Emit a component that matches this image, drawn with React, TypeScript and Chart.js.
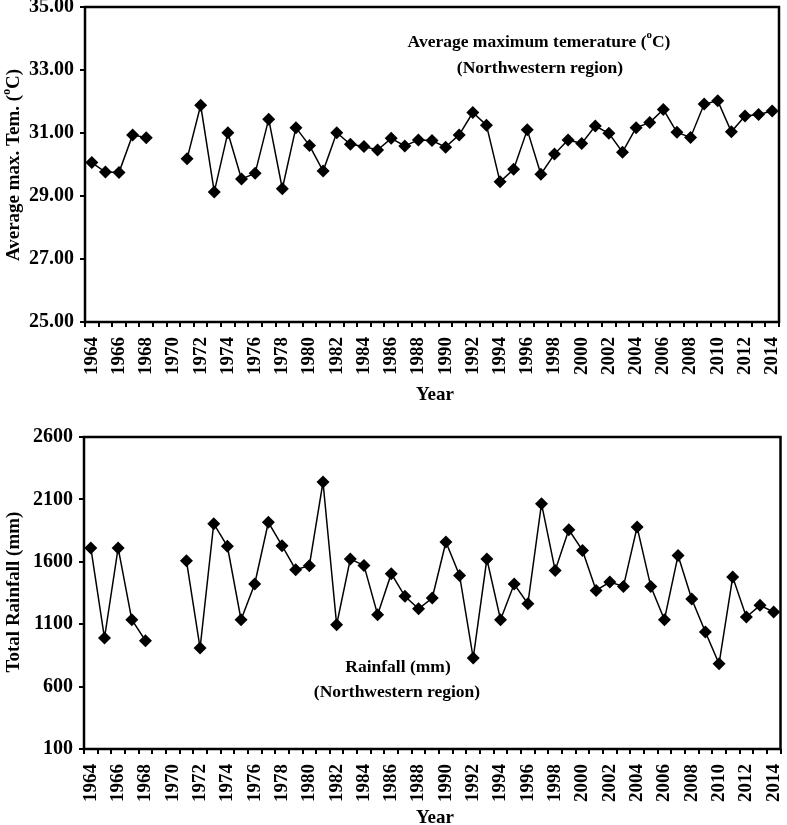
import React, { useEffect, useRef } from 'react';
import { Chart, registerables } from 'chart.js';

Chart.register(...registerables);

const years: string[] = [
  '1964', '1965', '1966', '1967', '1968', '1969', '1970', '1971', '1972', '1973',
  '1974', '1975', '1976', '1977', '1978', '1979', '1980', '1981', '1982', '1983',
  '1984', '1985', '1986', '1987', '1988', '1989', '1990', '1991', '1992', '1993',
  '1994', '1995', '1996', '1997', '1998', '1999', '2000', '2001', '2002', '2003',
  '2004', '2005', '2006', '2007', '2008', '2009', '2010', '2011', '2012', '2013',
  '2014',
];

const maxTemp: (number | null)[] = [
  30.06, 29.76, 29.75, 30.94, 30.85, null, null, 30.18, 31.88, 29.13,
  31.01, 29.54, 29.72, 31.44, 29.23, 31.17, 30.6, 29.79, 31.01, 30.64,
  30.57, 30.46, 30.83, 30.59, 30.78, 30.76, 30.55, 30.94, 31.65, 31.25,
  29.45, 29.85, 31.1, 29.69, 30.33, 30.78, 30.67, 31.22, 30.99, 30.39,
  31.17, 31.33, 31.75, 31.02, 30.86, 31.92, 32.02, 31.04, 31.54, 31.59,
  31.7,
];

const rainfall: (number | null)[] = [
  1711, 989, 1711, 1136, 968, null, null, 1609, 909, 1905,
  1724, 1136, 1422, 1916, 1729, 1537, 1569, 2239, 1096, 1622,
  1571, 1176, 1505, 1323, 1224, 1310, 1759, 1491, 829, 1622,
  1136, 1422, 1264, 2066, 1531, 1857, 1691, 1371, 1438, 1403,
  1879, 1403, 1136, 1651, 1302, 1037, 783, 1478, 1158, 1251,
  1198,
];

const tempTicks = { min: 25, max: 35, step: 2, decimals: 2 };
const rainTicks = { min: 100, max: 2600, step: 500, decimals: 0 };

const FAMILY = "'Liberation Serif', 'Times New Roman', serif";

type Part = { t: string; sup?: boolean };
type TextItem = { parts: Part[]; x: number; y: number; size: number; rotate?: boolean };

function drawRich(ctx: CanvasRenderingContext2D, item: TextItem) {
  const { parts, x, y, size, rotate } = item;
  const supSize = size * 0.62;
  const widths = parts.map((p) => {
    ctx.font = `bold ${p.sup ? supSize : size}px ${FAMILY}`;
    return ctx.measureText(p.t).width;
  });
  const total = widths.reduce((a, b) => a + b, 0);
  ctx.save();
  ctx.translate(x, y);
  if (rotate) ctx.rotate(-Math.PI / 2);
  ctx.fillStyle = '#000';
  ctx.textBaseline = 'middle';
  ctx.textAlign = 'left';
  let cx = -total / 2;
  parts.forEach((p, i) => {
    ctx.font = `bold ${p.sup ? supSize : size}px ${FAMILY}`;
    ctx.fillText(p.t, cx, p.sup ? -size * 0.38 : 0);
    cx += widths[i];
  });
  ctx.restore();
}

function makeOverlay(texts: TextItem[]) {
  return {
    id: 'overlay',
    afterDraw(chart: any) {
      const { ctx, chartArea: a } = chart;
      ctx.save();
      ctx.strokeStyle = '#000';
      ctx.lineWidth = 2.5;
      ctx.strokeRect(a.left, a.top, a.right - a.left, a.bottom - a.top);
      ctx.restore();
      texts.forEach((t) => drawRich(ctx, t));
    },
  };
}

type PanelProps = {
  values: (number | null)[];
  ticks: { min: number; max: number; step: number; decimals: number };
  width: number;
  height: number;
  shift: number;
  yAxisWidth: number;
  xAxisHeight: number;
  padTop: number;
  padRight: number;
  texts: TextItem[];
};

function Panel(props: PanelProps) {
  const ref = useRef<HTMLCanvasElement>(null);
  useEffect(() => {
    if (!ref.current) return;
    const { values, ticks, yAxisWidth, xAxisHeight, padTop, padRight, texts } = props;
    const chart = new Chart(ref.current, {
      type: 'line',
      data: {
        labels: years,
        datasets: [
          {
            data: values,
            borderColor: '#000',
            backgroundColor: '#000',
            borderWidth: 1.5,
            pointStyle: 'rectRot',
            pointRadius: 6.5,
            pointHoverRadius: 6.5,
            pointBackgroundColor: '#000',
            pointBorderColor: '#000',
            pointBorderWidth: 0,
            spanGaps: false,
            tension: 0,
          },
        ],
      },
      options: {
        responsive: false,
        animation: false,
        events: [],
        layout: { padding: { top: padTop, right: padRight, left: 0, bottom: 0 } },
        plugins: {
          legend: { display: false },
          tooltip: { enabled: false },
          title: { display: false },
        },
        scales: {
          x: {
            type: 'category',
            offset: true,
            border: { display: false },
            grid: {
              offset: true,
              drawOnChartArea: false,
              drawTicks: true,
              tickLength: 5,
              color: '#000',
              lineWidth: 2,
            },
            ticks: {
              autoSkip: false,
              minRotation: 90,
              maxRotation: 90,
              padding: 10,
              color: '#000',
              font: { family: FAMILY, weight: 'bold', size: 19 },
              callback: (_v: any, i: number) => (i % 2 === 0 ? years[i] : ''),
            },
            afterFit: (axis: any) => {
              axis.height = xAxisHeight;
              axis.paddingLeft = 0;
              axis.paddingRight = 0;
            },
          },
          y: {
            min: ticks.min,
            max: ticks.max,
            border: { display: false },
            grid: {
              drawOnChartArea: false,
              drawTicks: true,
              tickLength: 5,
              color: '#000',
              lineWidth: 2,
            },
            ticks: {
              stepSize: ticks.step,
              padding: 6,
              color: '#000',
              font: { family: FAMILY, weight: 'bold', size: 20 },
              callback: (v: any) => Number(v).toFixed(ticks.decimals),
            },
            afterFit: (axis: any) => {
              axis.width = yAxisWidth;
              axis.paddingTop = 0;
              axis.paddingBottom = 0;
            },
          },
        },
      },
      plugins: [makeOverlay(texts)],
    } as any);
    return () => chart.destroy();
  }, []);
  return (
    <canvas
      ref={ref}
      width={props.width}
      height={props.height}
      style={{ display: 'block', marginTop: -props.shift }}
    />
  );
}

export default function App() {
  return (
    <div style={{ position: 'absolute', left: 0, top: 0, width: 787, height: 825, background: '#fff', overflow: 'hidden' }}>
      <Panel
        values={maxTemp}
        ticks={tempTicks}
        width={787}
        height={420}
        shift={10}
        yAxisWidth={85}
        xAxisHeight={88}
        padTop={17}
        padRight={8}
        texts={[
          { parts: [{ t: 'Average maximum temerature (' }, { t: 'o', sup: true }, { t: 'C)' }], x: 539, y: 52, size: 17.5 },
          { parts: [{ t: '(Northwestern region)' }], x: 540, y: 78, size: 17.5 },
          { parts: [{ t: 'Average max. Tem. (' }, { t: 'o', sup: true }, { t: 'C)' }], x: 14, y: 175, size: 19, rotate: true },
          { parts: [{ t: 'Year' }], x: 435, y: 405, size: 19 },
        ]}
      />
      <Panel
        values={rainfall}
        ticks={rainTicks}
        width={787}
        height={415}
        shift={0}
        yAxisWidth={84}
        xAxisHeight={76}
        padTop={27}
        padRight={4}
        texts={[
          { parts: [{ t: 'Rainfall (mm)' }], x: 398, y: 257, size: 17.5 },
          { parts: [{ t: '(Northwestern region)' }], x: 397, y: 282, size: 17.5 },
          { parts: [{ t: 'Total Rainfall (mm)' }], x: 14, y: 182, size: 19, rotate: true },
          { parts: [{ t: 'Year' }], x: 435, y: 408, size: 19 },
        ]}
      />
    </div>
  );
}
